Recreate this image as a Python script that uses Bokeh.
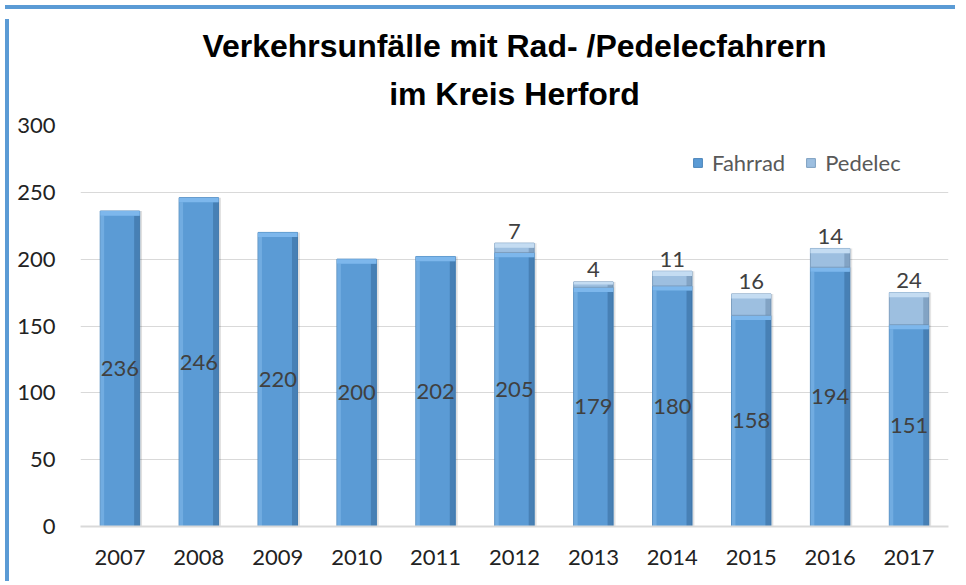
from bokeh.plotting import figure
from bokeh.models import ColumnDataSource, Legend, LegendItem, Title, FactorRange, FixedTicker, Range1d, Div
from bokeh.layouts import column, row
from bokeh.transform import dodge
from bokeh.core.properties import value
from bokeh.embed import file_html
from bokeh.resources import INLINE

years = ["2007", "2008", "2009", "2010", "2011", "2012", "2013", "2014", "2015", "2016", "2017"]
fahrrad = [236, 246, 220, 200, 202, 205, 179, 180, 158, 194, 151]
pedelec = [0, 0, 0, 0, 0, 7, 4, 11, 16, 14, 24]
y_ticks = [0, 50, 100, 150, 200, 250, 300]
series = ["Fahrrad", "Pedelec"]
title_lines = ["Verkehrsunfälle mit Rad- /Pedelecfahrern", "im Kreis Herford"]

BEVEL = 3.5  # bevel band height in data units (styling)

total = [f + q for f, q in zip(fahrrad, pedelec)]
src_f = ColumnDataSource(dict(
    year=years, top=fahrrad, bot=[0] * len(years),
    bev=[f - BEVEL for f in fahrrad], mid=[f / 2 for f in fahrrad],
    lab=[str(f) for f in fahrrad]))
idx = [i for i, q in enumerate(pedelec) if q > 0]
src_p = ColumnDataSource(dict(
    year=[years[i] for i in idx], top=[total[i] for i in idx],
    bot=[fahrrad[i] for i in idx],
    bev=[total[i] - min(BEVEL, pedelec[i] / 2) for i in idx],
    lab=[str(pedelec[i]) for i in idx]))

W, H = 946, 562
p = figure(x_range=FactorRange(*years), y_range=Range1d(0, 300),
           width=W, height=H, output_backend="svg", toolbar_location=None,
           min_border_left=66, min_border_right=12, min_border_bottom=50, min_border_top=111)
p.outline_line_color = None
p.background_fill_color = "white"
p.border_fill_color = "white"

t2 = Title(text=title_lines[1], align="center", text_font="Liberation Sans",
           text_font_size="32px", text_font_style="bold", text_color="#000000", standoff=28)
t1 = Title(text=title_lines[0], align="center", text_font="Liberation Sans",
           text_font_size="32px", text_font_style="bold", text_color="#000000", standoff=-9)
p.add_layout(t2, "above")
p.add_layout(t1, "above")

# grid / axes
p.xgrid.grid_line_color = None
p.ygrid.grid_line_color = "#d9d9d9"
p.ygrid.grid_line_width = 1
p.yaxis.ticker = FixedTicker(ticks=y_ticks)
p.yaxis.axis_line_color = None
p.yaxis.major_tick_line_color = None
p.yaxis.minor_tick_line_color = None
p.yaxis.major_label_standoff = 19
p.xaxis.axis_line_color = "#d9d9d9"
p.xaxis.axis_line_width = 2
p.xaxis.major_tick_line_color = None
p.xaxis.minor_tick_line_color = None
p.xaxis.major_label_standoff = 17
for ax in (p.xaxis, p.yaxis):
    ax.major_label_text_font = "Lato"
    ax.major_label_text_font_size = "22px"
    ax.major_label_text_color = "#222222"

# shadows
p.vbar(x=dodge("year", 0.265, range=p.x_range), width=0.03, top="top", bottom="bot", source=src_f,
       fill_color="#000000", fill_alpha=0.12, line_color=None)
p.vbar(x=dodge("year", 0.265, range=p.x_range), width=0.03, top="top", bottom="bot", source=src_p,
       fill_color="#000000", fill_alpha=0.10, line_color=None)

# Fahrrad segments
rf = p.vbar(x="year", width=0.5, top="top", bottom="bot", source=src_f,
            fill_color="#5B9BD5", line_color="#4a84b9", line_width=1)
p.vbar(x=dodge("year", 0.215, range=p.x_range), width=0.07, top="bev", bottom="bot", source=src_f,
       fill_color="#2f5f8f", fill_alpha=0.45, line_color=None)
p.vbar(x=dodge("year", -0.225, range=p.x_range), width=0.05, top="bev", bottom="bot", source=src_f,
       fill_color="#8cc0f0", fill_alpha=0.45, line_color=None)
p.vbar(x="year", width=0.5, top="top", bottom="bev", source=src_f,
       fill_color="#7db7ec", line_color=None)

# Pedelec segments
rp = p.vbar(x="year", width=0.5, top="top", bottom="bot", source=src_p,
            fill_color="#9dbfe0", line_color="#7d9fc0", line_width=1)
p.vbar(x=dodge("year", 0.215, range=p.x_range), width=0.07, top="bev", bottom="bot", source=src_p,
       fill_color="#4f6f8f", fill_alpha=0.35, line_color=None)
p.vbar(x="year", width=0.5, top="top", bottom="bev", source=src_p,
       fill_color="#c4dcf2", line_color=None)

# labels
p.text(x="year", y="mid", text="lab", source=src_f, text_align="center", text_baseline="middle",
       text_font=value("Lato"), text_font_size="22px", text_color="#404040")
p.text(x="year", y="top", text="lab", source=src_p, text_align="center", text_baseline="middle",
       text_font=value("Lato"), text_font_size="22px", text_color="#404040", y_offset=-12)

legend = Legend(items=[LegendItem(label=series[0], renderers=[rf]),
                       LegendItem(label=series[1], renderers=[rp])],
                location=(612, 350), orientation="horizontal",
                glyph_width=11, glyph_height=11, label_standoff=9, spacing=20,
                padding=10, border_line_color=None, background_fill_alpha=0,
                label_text_font="Lato", label_text_font_size="22px", label_text_color="#595959")
p.add_layout(legend, "center")

top_bar = Div(text="", width=W + 4, height=4, styles={"background-color": "#5b9bd5"})
left_bar = Div(text="", width=4, height=H, styles={"background-color": "#5b9bd5"})
layout = column(top_bar, row(left_bar, p, spacing=0), spacing=0)

open("out.html", "w").write(file_html(layout, INLINE))
